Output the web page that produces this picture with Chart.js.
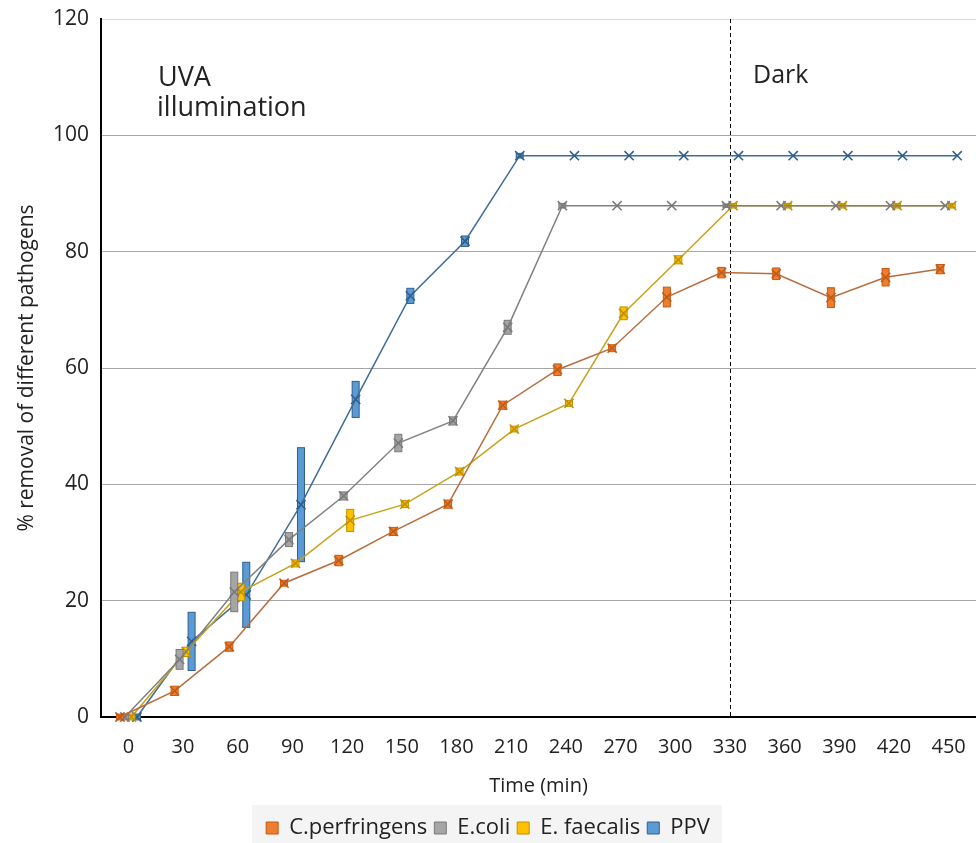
<!DOCTYPE html>
<html>
<head>
<meta charset="utf-8">
<title>Pathogen removal</title>
<script src="https://cdn.jsdelivr.net/npm/chart.js@4.4.1/dist/chart.umd.min.js"></script>
<style>
  html, body { margin: 0; padding: 0; background: #fff; overflow: hidden; }
  #wrap { width: 976px; height: 843px; }
</style>
</head>
<body>
<div id="wrap"><canvas id="chart" width="976" height="843"></canvas></div>
<script>
// sampling times (min)
var times = [0, 30, 60, 90, 120, 150, 180, 210, 240, 270, 300, 330, 360, 390, 420, 450];
var yTicks = [0, 20, 40, 60, 80, 100, 120];

// % removal per pathogen
var cPerfringens = [0, 4.5, 12.1, 23.0, 26.9, 31.9, 36.6, 53.6, 59.7, 63.4, 72.2, 76.4, 76.2, 72.1, 75.6, 77.0];
var eColi        = [0, 9.9, 21.5, 30.5, 38.0, 47.1, 50.9, 67.0, 87.9, 87.9, 87.9, 87.9, 87.9, 87.9, 87.9, 87.9];
var eFaecalis    = [0, 11.2, 21.5, 26.4, 33.8, 36.6, 42.2, 49.5, 53.9, 69.4, 78.6, 87.9, 87.9, 87.9, 87.9, 87.9];
var ppv          = [0, 13.0, 21.0, 36.5, 54.6, 72.4, 81.8, 96.5, 96.5, 96.5, 96.5, 96.5, 96.5, 96.5, 96.5, 96.5];

// error (+/-)
var cPerfringensErr = [0.5, 0.8, 0.8, 0.5, 0.9, 0.7, 0.7, 0.7, 1.0, 0.6, 1.7, 0.9, 1.0, 1.7, 1.5, 0.8];
var eColiErr        = [0.5, 1.7, 3.4, 1.2, 0.7, 1.5, 0.7, 1.2, 0.4, 0, 0, 0.3, 0, 0, 0, 0];
var eFaecalisErr    = [0.5, 0.8, 1.5, 0.6, 1.9, 0.6, 0.6, 0.5, 0.5, 1.1, 0.7, 0.4, 0.4, 0.4, 0.4, 0.4];
var ppvErr          = [0.5, 5.0, 5.6, 9.8, 3.1, 1.3, 0.9, 0.4, 0, 0, 0, 0, 0, 0, 0, 0];

var FONT = "'Open Sans', 'Noto Sans', sans-serif";
var TEXT = '#222222';
var PAD_BOTTOM = -6;

function series(label, values, errs, shift, line, mark, fill) {
  return {
    label: label,
    data: times.map(function (t, i) { return { x: t + shift, y: values[i] }; }),
    errors: errs,
    fillColor: fill,
    borderColor: line,
    backgroundColor: fill,
    borderWidth: 1.5,
    pointStyle: 'crossRot',
    pointRadius: 6.5,
    pointBorderWidth: 1.5,
    pointBorderColor: mark,
    pointBackgroundColor: mark,
    tension: 0,
    clip: false
  };
}

var errorBars = {
  id: 'errorBars',
  beforeDatasetDraw: function (chart, args) {
    var ds = chart.data.datasets[args.index];
    var yScale = chart.scales.y;
    var ctx = chart.ctx;
    ctx.save();
    args.meta.data.forEach(function (pt, i) {
      var e = ds.errors[i];
      if (!e) return;
      var v = ds.data[i].y;
      var top = yScale.getPixelForValue(v + e);
      var bot = yScale.getPixelForValue(v - e);
      ctx.fillStyle = ds.fillColor;
      ctx.strokeStyle = ds.pointBorderColor;
      ctx.lineWidth = 1;
      ctx.fillRect(pt.x - 3.5, top, 7, bot - top);
      ctx.strokeRect(pt.x - 3.5, top, 7, bot - top);
    });
    ctx.restore();
  }
};

var extras = {
  id: 'extras',
  beforeDraw: function (chart) {
    var ctx = chart.ctx;
    var boxes = chart.legend.legendHitBoxes;
    if (boxes && boxes.length) {
      var l = boxes[0].left - 14;
      var r = boxes[boxes.length - 1].left + boxes[boxes.length - 1].width + 12;
      ctx.save();
      ctx.fillStyle = '#f4f4f4';
      ctx.fillRect(l, 805, r - l, 40);
      ctx.restore();
    }
  },
  beforeDatasetsDraw: function (chart) {
    var ctx = chart.ctx;
    var a = chart.chartArea;
    var x = Math.round(chart.scales.x.getPixelForValue(330)) + 0.5;
    ctx.save();
    ctx.strokeStyle = '#000';
    ctx.lineWidth = 1;
    ctx.setLineDash([4, 3]);
    ctx.beginPath();
    ctx.moveTo(x, a.top);
    ctx.lineTo(x, a.bottom);
    ctx.stroke();
    ctx.restore();
  },
  afterDraw: function (chart) {
    var ctx = chart.ctx;
    ctx.save();
    ctx.fillStyle = TEXT;
    ctx.textBaseline = 'alphabetic';
    ctx.font = '27px ' + FONT;
    ctx.fillText('UVA', 158, 86);
    ctx.fillText('illumination', 157, 116);
    ctx.font = '25px ' + FONT;
    ctx.fillText('Dark', 753, 83);
    ctx.restore();
  }
};

new Chart(document.getElementById('chart'), {
  type: 'line',
  data: {
    datasets: [
      series('C.perfringens', cPerfringens, cPerfringensErr, -4.6, '#b86c3c', '#c55a11', '#ed7d31'),
      series('E.coli', eColi, eColiErr, -1.9, '#808080', '#7a7a7a', '#a5a5a5'),
      series('E. faecalis', eFaecalis, eFaecalisErr, 1.7, '#c9a21a', '#bf9000', '#ffc000'),
      series('PPV', ppv, ppvErr, 4.7, '#3d6d98', '#2f5f8f', '#5b9bd5')
    ]
  },
  options: {
    responsive: false,
    animation: false,
    layout: { autoPadding: false, padding: { top: 19, left: 0, right: 0, bottom: PAD_BOTTOM } },
    plugins: {
      tooltip: { enabled: false },
      legend: {
        position: 'bottom',
        labels: {
          font: { family: FONT, size: 22 },
          color: TEXT,
          boxWidth: 12,
          boxHeight: 12,
          padding: 7,
          generateLabels: function (chart) {
            return chart.data.datasets.map(function (ds, i) {
              return {
                text: ds.label,
                fillStyle: ds.fillColor,
                strokeStyle: ds.pointBorderColor,
                lineWidth: 1,
                fontColor: TEXT,
                datasetIndex: i
              };
            });
          }
        }
      }
    },
    scales: {
      x: {
        type: 'linear',
        min: -15,
        max: 465,
        afterBuildTicks: function (scale) {
          scale.ticks = times.map(function (t) { return { value: t }; });
        },
        afterFit: function (scale) {
          var lg = scale.chart.legend ? scale.chart.legend.height : 0;
          scale.height = 843 - PAD_BOTTOM - 717 - lg;
          scale.paddingLeft = 0;
          scale.paddingRight = 0;
        },
        grid: { display: false },
        border: { display: true, color: '#000', width: 2 },
        ticks: {
          padding: 10,
          autoSkip: false,
          maxRotation: 0,
          color: TEXT,
          font: { family: FONT, size: 20 }
        },
        title: {
          display: true,
          text: 'Time (min)',
          color: TEXT,
          font: { family: FONT, size: 20 },
          padding: { top: 0, bottom: 12 }
        }
      },
      y: {
        min: 0,
        max: 120,
        afterBuildTicks: function (scale) {
          scale.ticks = yTicks.map(function (v) { return { value: v }; });
        },
        afterFit: function (scale) {
          scale.width = 101;
          scale.paddingTop = 0;
          scale.paddingBottom = 0;
        },
        grid: {
          drawTicks: false,
          color: function (c) { return c.tick && c.tick.value === 120 ? '#d9d9d9' : '#a6a6a6'; },
          lineWidth: 1
        },
        border: { display: true, color: '#000', width: 2 },
        ticks: {
          padding: 12,
          color: TEXT,
          font: { family: FONT, size: 21 }
        },
        title: {
          display: true,
          text: '% removal of different pathogens',
          color: TEXT,
          font: { family: FONT, size: 21 },
          padding: { top: 14, bottom: 0 }
        }
      }
    }
  },
  plugins: [errorBars, extras]
});
</script>
</body>
</html>
